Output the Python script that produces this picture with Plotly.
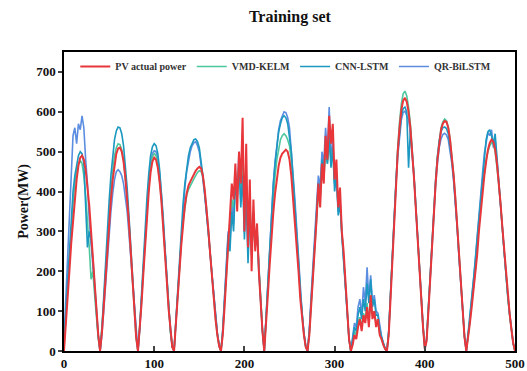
import plotly.graph_objects as go

x_hours = list(range(0, 501, 2))

actual_power = [
    0, 60, 130, 200, 270, 330, 385, 430, 465, 485, 490, 480, 455, 415, 365, 300, 230, 160, 95, 40, 0,
    45, 110, 180, 250, 320, 380, 430, 470, 495, 508, 510, 500, 475, 435, 385, 320, 250, 175, 100, 35, 0,
    50, 120, 195, 270, 340, 400, 448, 475, 485, 480, 460, 425, 375, 315, 245, 175, 105, 50, 10, 0,
    60, 130, 200, 265, 320, 365, 395, 415, 425, 435, 445, 452, 458, 462, 458, 440, 405, 360, 305, 245, 185, 130, 80, 40, 12, 0,
    40, 110, 190, 270, 340, 420, 380, 470, 350, 500, 420, 585, 300, 520, 260, 430, 200, 380, 250, 320, 200, 120, 50, 0,
    60, 140, 215, 285, 345, 395, 435, 465, 485, 495, 500, 505, 500, 480, 440, 380, 340, 270, 200, 130, 80, 40, 10, 0,
    40, 110, 170, 260, 330, 420, 360, 470, 420, 540, 480, 590, 520, 570, 430, 480, 360, 410, 300, 250, 170, 100, 30, 0,
    15, 40, 30, 60, 80, 50, 90, 70, 110, 60, 140, 80, 100, 60, 80, 40, 30, 15, 5, 0,
    40, 130, 230, 330, 420, 500, 560, 605, 628, 635, 625, 600, 560, 505, 435, 360, 280, 200, 125, 60, 5,
    25, 100, 185, 270, 350, 420, 480, 525, 555, 570, 577, 575, 560, 530, 490, 440, 380, 310, 235, 160, 90, 35, 0,
    30, 70, 110, 150, 190, 240, 300, 350, 400, 440, 475, 505, 522, 530, 525, 505, 470, 425, 370, 310, 250, 190, 140, 95, 55, 20, 0,
]

vmd_kelm = [
    10, 80, 160, 240, 310, 370, 420, 455, 470, 478, 470, 440, 390, 330, 260, 180, 200, 140, 80, 30, 0,
    50, 120, 195, 270, 340, 400, 450, 490, 510, 520, 518, 505, 480, 440, 385, 320, 245, 170, 95, 30, 0,
    55, 130, 210, 285, 355, 415, 460, 488, 495, 490, 468, 430, 380, 318, 248, 175, 105, 48, 10, 0,
    70, 145, 215, 275, 325, 365, 390, 405, 415, 425, 432, 440, 448, 452, 450, 438, 405, 360, 305, 245, 185, 130, 80, 40, 12, 0,
    45, 120, 200, 280, 330, 380, 360, 420, 400, 460, 410, 480, 380, 430, 300, 380, 260, 320, 280, 300, 210, 130, 55, 0,
    70, 160, 245, 320, 385, 440, 480, 510, 530, 540, 545, 540, 530, 515, 480, 420, 360, 290, 215, 145, 85, 40, 10, 0,
    45, 120, 190, 270, 340, 400, 380, 450, 430, 500, 470, 520, 480, 500, 420, 440, 360, 380, 300, 240, 170, 100, 30, 0,
    20, 50, 40, 70, 85, 60, 95, 80, 120, 70, 130, 90, 100, 70, 75, 45, 30, 15, 5, 0,
    45, 140, 240, 340, 430, 510, 575, 620, 645, 652, 640, 612, 570, 510, 440, 362, 280, 200, 125, 60, 5,
    30, 105, 190, 275, 355, 425, 485, 530, 560, 575, 582, 578, 562, 532, 492, 442, 382, 312, 238, 162, 92, 36, 0,
    35, 75, 120, 160, 200, 260, 320, 370, 410, 450, 480, 500, 515, 522, 520, 500, 465, 420, 365, 305, 245, 185, 135, 90, 50, 18, 0,
]

cnn_lstm = [
    20, 100, 190, 270, 340, 400, 440, 470, 490, 500, 495, 470, 370, 260, 300, 280, 230, 160, 95, 40, 0,
    55, 135, 220, 300, 375, 440, 490, 530, 552, 562, 560, 545, 515, 470, 410, 340, 265, 185, 105, 40, 0,
    60, 145, 230, 310, 385, 445, 490, 512, 520, 515, 495, 455, 400, 335, 260, 185, 110, 50, 12, 0,
    75, 155, 235, 305, 370, 420, 460, 490, 510, 522, 530, 532, 525, 510, 480, 440, 395, 350, 300, 245, 190, 135, 85, 45, 15, 0,
    50, 130, 210, 290, 250, 350, 300, 420, 380, 470, 360, 440, 280, 400, 220, 350, 240, 330, 260, 300, 200, 120, 50, 0,
    80, 175, 265, 345, 415, 470, 515, 550, 570, 585, 590, 585, 570, 540, 500, 430, 370, 300, 225, 150, 90, 45, 12, 0,
    50, 130, 200, 280, 350, 420, 400, 480, 450, 530, 470, 540, 460, 510, 400, 440, 340, 370, 290, 230, 160, 90, 30, 0,
    25, 60, 50, 90, 110, 80, 130, 100, 170, 120, 180, 110, 130, 90, 90, 55, 35, 18, 6, 0,
    50, 145, 245, 340, 425, 500, 555, 590, 608, 612, 600, 460, 555, 505, 440, 365, 285, 205, 130, 65, 8,
    30, 110, 195, 280, 360, 430, 488, 528, 550, 560, 562, 558, 545, 518, 480, 432, 375, 308, 235, 160, 92, 38, 0,
    40, 85, 135, 180, 230, 290, 350, 400, 450, 500, 530, 550, 555, 540, 520, 545, 480, 430, 370, 310, 250, 190, 140, 95, 55, 20, 0,
]

qr_bilstm = [
    30, 130, 240, 350, 430, 540, 560, 520, 570, 555, 590, 560, 480, 420, 330, 270, 220, 155, 90, 38, 0,
    40, 100, 165, 230, 295, 350, 395, 430, 450, 455, 450, 440, 420, 390, 350, 295, 235, 165, 95, 35, 0,
    55, 135, 215, 295, 365, 425, 470, 495, 502, 500, 482, 445, 392, 328, 255, 180, 108, 50, 12, 0,
    70, 150, 225, 295, 360, 410, 450, 480, 500, 515, 522, 525, 515, 500, 470, 430, 390, 350, 300, 245, 190, 135, 85, 45, 15, 0,
    55, 140, 220, 300, 270, 380, 320, 450, 400, 500, 380, 470, 300, 420, 240, 370, 250, 350, 270, 310, 210, 125, 52, 0,
    85, 180, 270, 350, 420, 475, 520, 555, 578, 592, 600, 598, 585, 560, 510, 440, 380, 310, 230, 155, 92, 46, 12, 0,
    55, 140, 210, 290, 360, 440, 410, 500, 470, 560, 500, 612, 480, 530, 420, 450, 350, 380, 300, 235, 165, 95, 32, 0,
    30, 70, 60, 110, 130, 90, 160, 120, 210, 130, 190, 120, 140, 100, 95, 60, 38, 20, 6, 0,
    48, 140, 238, 332, 415, 488, 545, 580, 598, 602, 590, 580, 548, 500, 435, 360, 282, 202, 128, 62, 6,
    28, 105, 188, 270, 348, 415, 470, 510, 532, 543, 546, 542, 530, 505, 470, 425, 370, 305, 232, 158, 90, 36, 0,
    38, 80, 130, 175, 225, 285, 345, 395, 445, 495, 525, 548, 540, 555, 510, 530, 475, 425, 368, 308, 248, 188, 138, 93, 53, 19, 0,
]

for arr in (actual_power, vmd_kelm, cnn_lstm, qr_bilstm):
    assert len(arr) == len(x_hours), len(arr)

series_names = ["PV actual power", "VMD-KELM", "CNN-LSTM", "QR-BiLSTM"]
x_ticks = [0, 100, 200, 300, 400, 500]
y_ticks = [0, 100, 200, 300, 400, 500, 600, 700]

serif = "Liberation Serif, Times New Roman, serif"

fig = go.Figure()
# draw order: blue, green, cyan, red on top; legend order via legendrank
fig.add_trace(go.Scatter(x=x_hours, y=qr_bilstm, mode="lines", name=series_names[3],
                         line=dict(color="#5b8ee0", width=1.6), legendrank=4))
fig.add_trace(go.Scatter(x=x_hours, y=vmd_kelm, mode="lines", name=series_names[1],
                         line=dict(color="#4ec79c", width=1.6), legendrank=2))
fig.add_trace(go.Scatter(x=x_hours, y=cnn_lstm, mode="lines", name=series_names[2],
                         line=dict(color="#1b98c0", width=1.6), legendrank=3))
fig.add_trace(go.Scatter(x=x_hours, y=actual_power, mode="lines", name=series_names[0],
                         line=dict(color="#e8363a", width=2), legendrank=1))

fig.update_layout(
    width=527, height=371,
    margin=dict(l=64, r=12, t=52, b=20),
    paper_bgcolor="white", plot_bgcolor="white",
    title=dict(text="Training set", x=0.55, xanchor="center", y=0.955, yanchor="middle",
               font=dict(family=serif, size=16, color="#111", weight="bold")),
    legend=dict(orientation="h", x=0.025, y=1.0, xanchor="left", yanchor="top",
                bgcolor="rgba(0,0,0,0)", font=dict(family=serif, size=10, color="#333", weight="bold"),
                itemwidth=30, tracegroupgap=0),
    font=dict(family=serif, color="#111"),
)
fig.update_xaxes(range=[0, 500], tickvals=x_ticks, ticks="inside", ticklen=5, tickwidth=1.5,
                 showline=True, mirror=True, linecolor="black", linewidth=1.5, showgrid=False,
                 zeroline=False, tickfont=dict(family=serif, size=13, color="#111", weight="bold"),
                 automargin=False)
fig.update_yaxes(range=[0, 750], tickvals=y_ticks, ticks="outside", ticklen=4, tickwidth=1.5,
                 showline=True, mirror=True, linecolor="black", linewidth=1.5, showgrid=False,
                 zeroline=False, tickfont=dict(family=serif, size=13, color="#111", weight="bold"),
                 title=dict(text="Power(MW)", standoff=4,
                            font=dict(family=serif, size=14, color="#111", weight="bold")),
                 automargin=False)

fig.write_html("out.html")
